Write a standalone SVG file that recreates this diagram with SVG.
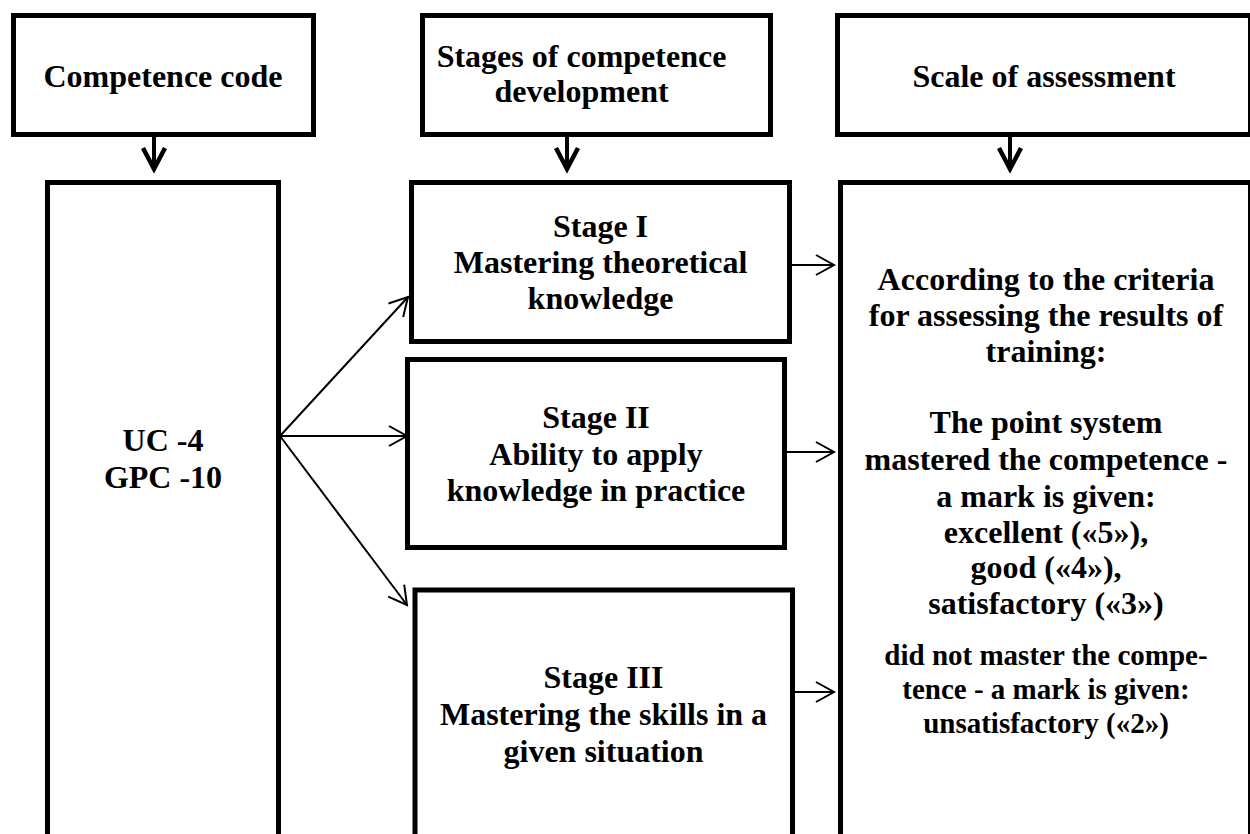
<svg xmlns="http://www.w3.org/2000/svg" width="1250" height="834" viewBox="0 0 1250 834">
<style>
.box{fill:#fff;stroke:#000;stroke-width:5}
.t{font-family:"Liberation Serif","Times New Roman",serif;font-weight:bold;font-size:32px;text-anchor:middle;fill:#000}
.s{font-size:29px}
.thin{stroke:#000;stroke-width:2;fill:none}
.thick{stroke:#000;stroke-width:4;fill:none}
</style>
<defs>
<marker id="ah" markerUnits="userSpaceOnUse" markerWidth="30" markerHeight="30" refX="0" refY="0" viewBox="-22 -15 30 30" orient="auto" overflow="visible">
<path d="M-18,-10 L0,0 L-18,10" fill="none" stroke="#000" stroke-width="2" stroke-linejoin="miter"/>
</marker>
<marker id="ahb" markerUnits="userSpaceOnUse" markerWidth="40" markerHeight="40" refX="0" refY="0" viewBox="-30 -20 40 40" orient="auto" overflow="visible">
<path d="M-21,-11 L0,0 L-21,11" fill="none" stroke="#000" stroke-width="4.5" stroke-linejoin="miter"/>
</marker>
</defs>
<rect width="1250" height="834" fill="#fff"/>

<g id="hdr-code">
<rect class="box" x="13.5" y="15.5" width="300" height="119"/>
<text class="t" x="163" y="87">Competence code</text>
</g>
<g id="hdr-stages">
<rect class="box" x="422.5" y="15.5" width="348" height="119"/>
<text class="t" x="581.5" y="67">Stages of competence</text>
<text class="t" x="581.5" y="102">development</text>
</g>
<g id="hdr-scale">
<rect class="box" x="837.5" y="15.5" width="413" height="119"/>
<text class="t" x="1044" y="87">Scale of assessment</text>
</g>

<g id="codes">
<rect class="box" x="47.5" y="182.5" width="231" height="700"/>
<text class="t" x="163" y="451">UC -4</text>
<text class="t" x="163" y="488">GPC -10</text>
</g>

<g id="stage1">
<rect class="box" x="411.5" y="182.5" width="378" height="159"/>
<text class="t" x="600.5" y="237">Stage I</text>
<text class="t" x="600.5" y="273">Mastering theoretical</text>
<text class="t" x="600.5" y="309">knowledge</text>
</g>
<g id="stage2">
<rect class="box" x="407.5" y="359.5" width="377" height="188"/>
<text class="t" x="596" y="428">Stage II</text>
<text class="t" x="596" y="465">Ability to apply</text>
<text class="t" x="596" y="501">knowledge in practice</text>
</g>
<g id="stage3">
<rect class="box" x="415" y="590" width="377.5" height="300"/>
<text class="t" x="603.5" y="688">Stage III</text>
<text class="t" x="603.5" y="725">Mastering the skills in a</text>
<text class="t" x="603.5" y="762">given situation</text>
</g>

<g id="scale">
<rect class="box" x="840.5" y="182.5" width="410" height="700"/>
<text class="t" x="1046" y="290">According to the criteria</text>
<text class="t" x="1046" y="326">for assessing the results of</text>
<text class="t" x="1046" y="362">training:</text>
<text class="t" x="1046" y="433">The point system</text>
<text class="t" x="1046" y="470">mastered the competence -</text>
<text class="t" x="1046" y="507">a mark is given:</text>
<text class="t" x="1046" y="543">excellent («5»),</text>
<text class="t" x="1046" y="578">good («4»),</text>
<text class="t" x="1046" y="614">satisfactory («3»)</text>
<text class="t s" x="1046" y="665">did not master the compe-</text>
<text class="t s" x="1046" y="699">tence - a mark is given:</text>
<text class="t s" x="1046" y="733">unsatisfactory («2»)</text>
</g>

<g id="connectors">
<line class="thick" x1="154" y1="137" x2="154" y2="169" marker-end="url(#ahb)"/>
<line class="thick" x1="567" y1="137" x2="567" y2="169" marker-end="url(#ahb)"/>
<line class="thick" x1="1010" y1="137" x2="1010" y2="169" marker-end="url(#ahb)"/>
<line class="thin" x1="280" y1="436" x2="408" y2="297" marker-end="url(#ah)"/>
<line class="thin" x1="280" y1="436" x2="407" y2="436" marker-end="url(#ah)"/>
<line class="thin" x1="280" y1="436" x2="407" y2="605" marker-end="url(#ah)"/>
<line class="thin" x1="792" y1="265" x2="834" y2="265" marker-end="url(#ah)"/>
<line class="thin" x1="787" y1="452" x2="834" y2="452" marker-end="url(#ah)"/>
<line class="thin" x1="795" y1="692" x2="834" y2="692" marker-end="url(#ah)"/>
</g>
</svg>
